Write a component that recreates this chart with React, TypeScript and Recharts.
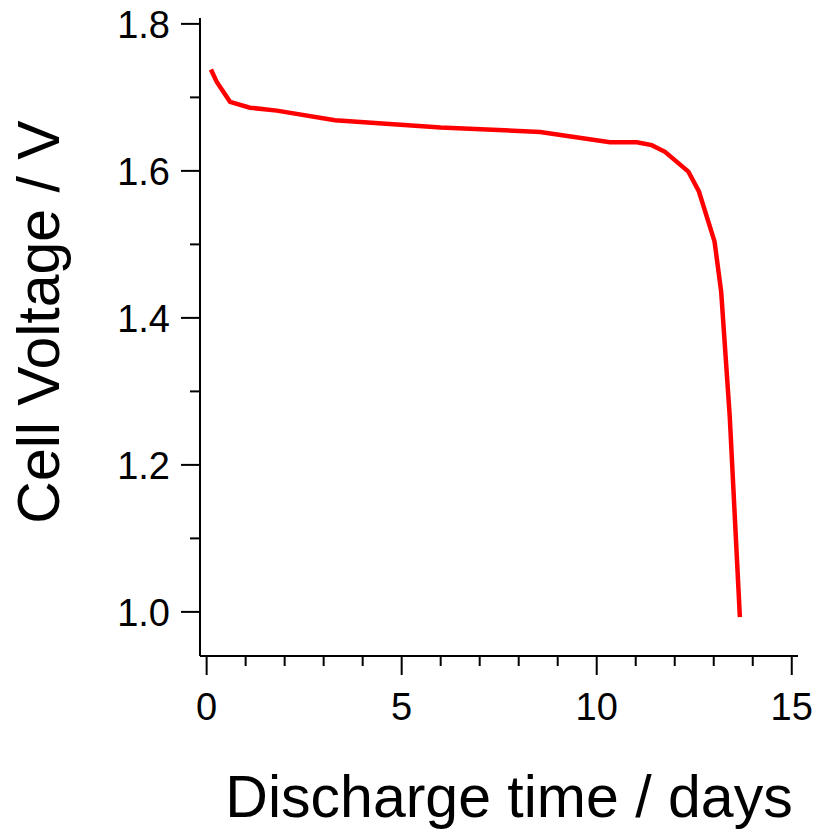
import React from 'react';
import { LineChart, Line, XAxis, YAxis, Label } from 'recharts';

// discharge curve
const days = [0.11, 0.26, 0.6, 1.11, 1.8, 3.29, 6.0, 8.55, 10.34, 11.03, 11.41, 11.75, 12.35, 12.62, 13.02, 13.19, 13.41, 13.67];
const volts = [1.738, 1.721, 1.694, 1.686, 1.682, 1.669, 1.659, 1.653, 1.639, 1.639, 1.635, 1.626, 1.599, 1.572, 1.504, 1.436, 1.266, 0.993];

const xTicks = [0, 1, 2, 3, 4, 5, 6, 7, 8, 9, 10, 11, 12, 13, 14, 15];
const xMajor = [0, 5, 10, 15];
const yTicks = [1.0, 1.1, 1.2, 1.3, 1.4, 1.5, 1.6, 1.7, 1.8];
const yMajor = ['1.0', '1.2', '1.4', '1.6', '1.8'];

const xDomain: [number, number] = [-0.17, 15.16];
const yDomain: [number, number] = [0.94, 1.808];

const FONT = '"Liberation Sans", Arial, Helvetica, sans-serif';

const data = days.map((d, i) => ({ t: d, v: volts[i] }));

const XTick = (props: any) => {
  const { x, y, payload } = props;
  const major = xMajor.includes(payload.value);
  return (
    <g>
      <line x1={x} y1={y} x2={x} y2={y + (major ? 19 : 10)} stroke="#000" strokeWidth={2} />
      {major && (
        <text x={x} y={y + 64} textAnchor="middle" fontSize={38} fontFamily={FONT} fill="#000">
          {payload.value}
        </text>
      )}
    </g>
  );
};

const YTick = (props: any) => {
  const { x, y, payload } = props;
  const label = Number(payload.value).toFixed(1);
  const major = yMajor.includes(label);
  return (
    <g>
      <line x1={x - (major ? 19 : 10)} y1={y} x2={x} y2={y} stroke="#000" strokeWidth={2} />
      {major && (
        <text x={x - 30} y={y} dy="0.36em" textAnchor="end" fontSize={38} fontFamily={FONT} fill="#000">
          {label}
        </text>
      )}
    </g>
  );
};

const XTitle = (props: any) => {
  const vb = props.viewBox;
  return (
    <text x={vb.x + vb.width / 2 + 10} y={vb.y + 161} textAnchor="middle" fontSize={59} fontFamily={FONT} fill="#000">
      Discharge time / days
    </text>
  );
};

const YTitle = (props: any) => {
  const vb = props.viewBox;
  const cx = vb.x + 59;
  const cy = vb.y + vb.height / 2 - 15;
  return (
    <text x={cx} y={cy} transform={`rotate(-90, ${cx}, ${cy})`} textAnchor="middle" fontSize={59} fontFamily={FONT} fill="#000">
      Cell Voltage / V
    </text>
  );
};

export default function App() {
  return (
    <div style={{ position: 'absolute', left: 0, top: 0, background: '#fff' }}>
      <LineChart width={817} height={832} data={data} margin={{ top: 18, right: 19, bottom: 0, left: 0 }}>
        <XAxis
          dataKey="t"
          type="number"
          domain={xDomain}
          allowDataOverflow
          ticks={xTicks}
          interval={0}
          height={176}
          tickSize={0}
          tickMargin={0}
          tickLine={false}
          tick={<XTick />}
          axisLine={{ stroke: '#000', strokeWidth: 2 }}
        >
          <Label content={<XTitle />} />
        </XAxis>
        <XAxis xAxisId="top" orientation="top" type="number" domain={xDomain} allowDataOverflow height={0} tick={false} tickLine={false} axisLine={{ stroke: '#000', strokeWidth: 2 }} />
        <YAxis
          type="number"
          domain={yDomain}
          allowDataOverflow
          ticks={yTicks}
          interval={0}
          width={200}
          tickSize={0}
          tickMargin={0}
          tickLine={false}
          tick={<YTick />}
          axisLine={{ stroke: '#000', strokeWidth: 2 }}
        >
          <Label content={<YTitle />} />
        </YAxis>
        <YAxis yAxisId="right" orientation="right" type="number" domain={yDomain} allowDataOverflow width={0} tick={false} tickLine={false} axisLine={{ stroke: '#000', strokeWidth: 2 }} />
        <Line type="linear" dataKey="v" stroke="#ff0000" strokeWidth={4.5} dot={false} isAnimationActive={false} />
      </LineChart>
    </div>
  );
}
